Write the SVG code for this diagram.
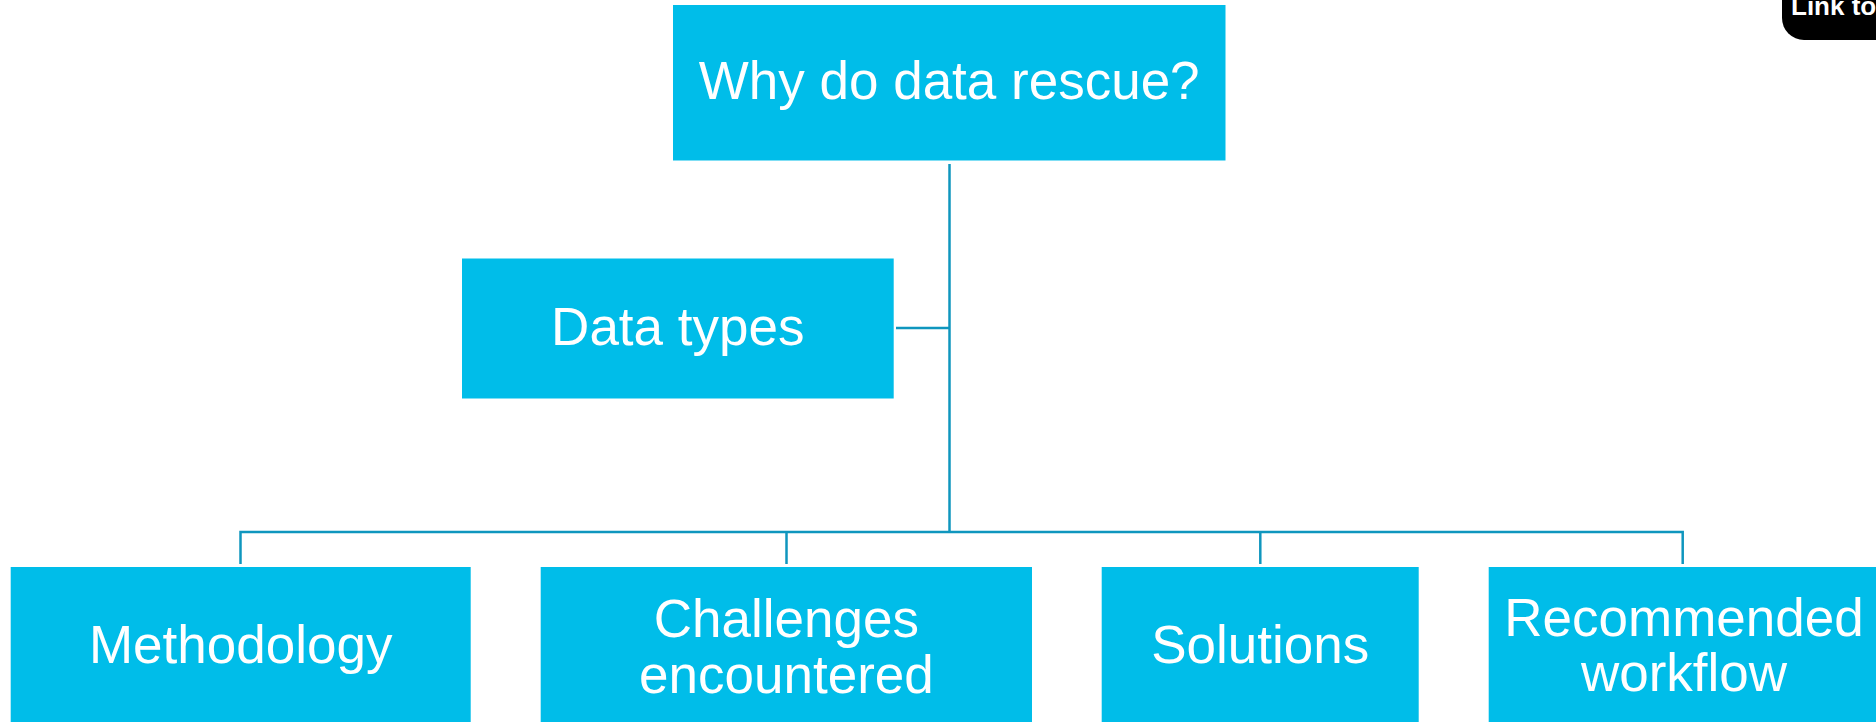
<svg xmlns="http://www.w3.org/2000/svg" width="1876" height="722" viewBox="0 0 1876 722">
  <style>
    .box { fill: #00BDE9; }
    .label { font-family: "Liberation Sans", Arial, sans-serif; font-size: 53px; fill: #FFFFFF; text-anchor: middle; }
    .wire { fill: none; stroke: #0F96BE; stroke-width: 2.5; }
    .link-text { font-family: "Liberation Sans", Arial, sans-serif; font-size: 26px; font-weight: bold; fill: #FFFFFF; }
  </style>
  <rect width="1876" height="722" fill="#FFFFFF"/>

  <!-- connectors -->
  <g id="connectors">
    <path class="wire" d="M949.5 164 V532"/>
    <path class="wire" d="M896 328 H949.5"/>
    <path class="wire" d="M240.5 564 V532 H1682.7 V564"/>
    <path class="wire" d="M786.5 532 V564"/>
    <path class="wire" d="M1260.3 532 V564"/>
  </g>

  <!-- root -->
  <g id="node-root">
    <rect class="box" x="673" y="5" width="552.5" height="155.5"/>
    <text class="label" x="949.2" y="98.5">Why do data rescue?</text>
  </g>

  <g id="node-data-types">
    <rect class="box" x="462" y="258.5" width="431.7" height="140"/>
    <text class="label" x="677.8" y="345">Data types</text>
  </g>

  <g id="node-methodology">
    <rect class="box" x="10.7" y="567" width="460" height="160"/>
    <text class="label" x="240.7" y="663">Methodology</text>
  </g>

  <g id="node-challenges">
    <rect class="box" x="540.7" y="567" width="491.3" height="160"/>
    <text class="label" x="786.4" y="637">Challenges</text>
    <text class="label" x="786.4" y="693">encountered</text>
  </g>

  <g id="node-solutions">
    <rect class="box" x="1101.7" y="567" width="317" height="160"/>
    <text class="label" x="1260.2" y="663">Solutions</text>
  </g>

  <g id="node-workflow">
    <rect class="box" x="1488.7" y="567" width="400" height="160"/>
    <text class="label" x="1684" y="636">Recommended</text>
    <text class="label" x="1684" y="691">workflow</text>
  </g>

  <!-- corner link badge -->
  <g id="link-badge">
    <path d="M1782 -10 H1890 V40 H1804 A22 22 0 0 1 1782 18 Z" fill="#000000"/>
    <text class="link-text" x="1791" y="15">Link to</text>
  </g>
</svg>
